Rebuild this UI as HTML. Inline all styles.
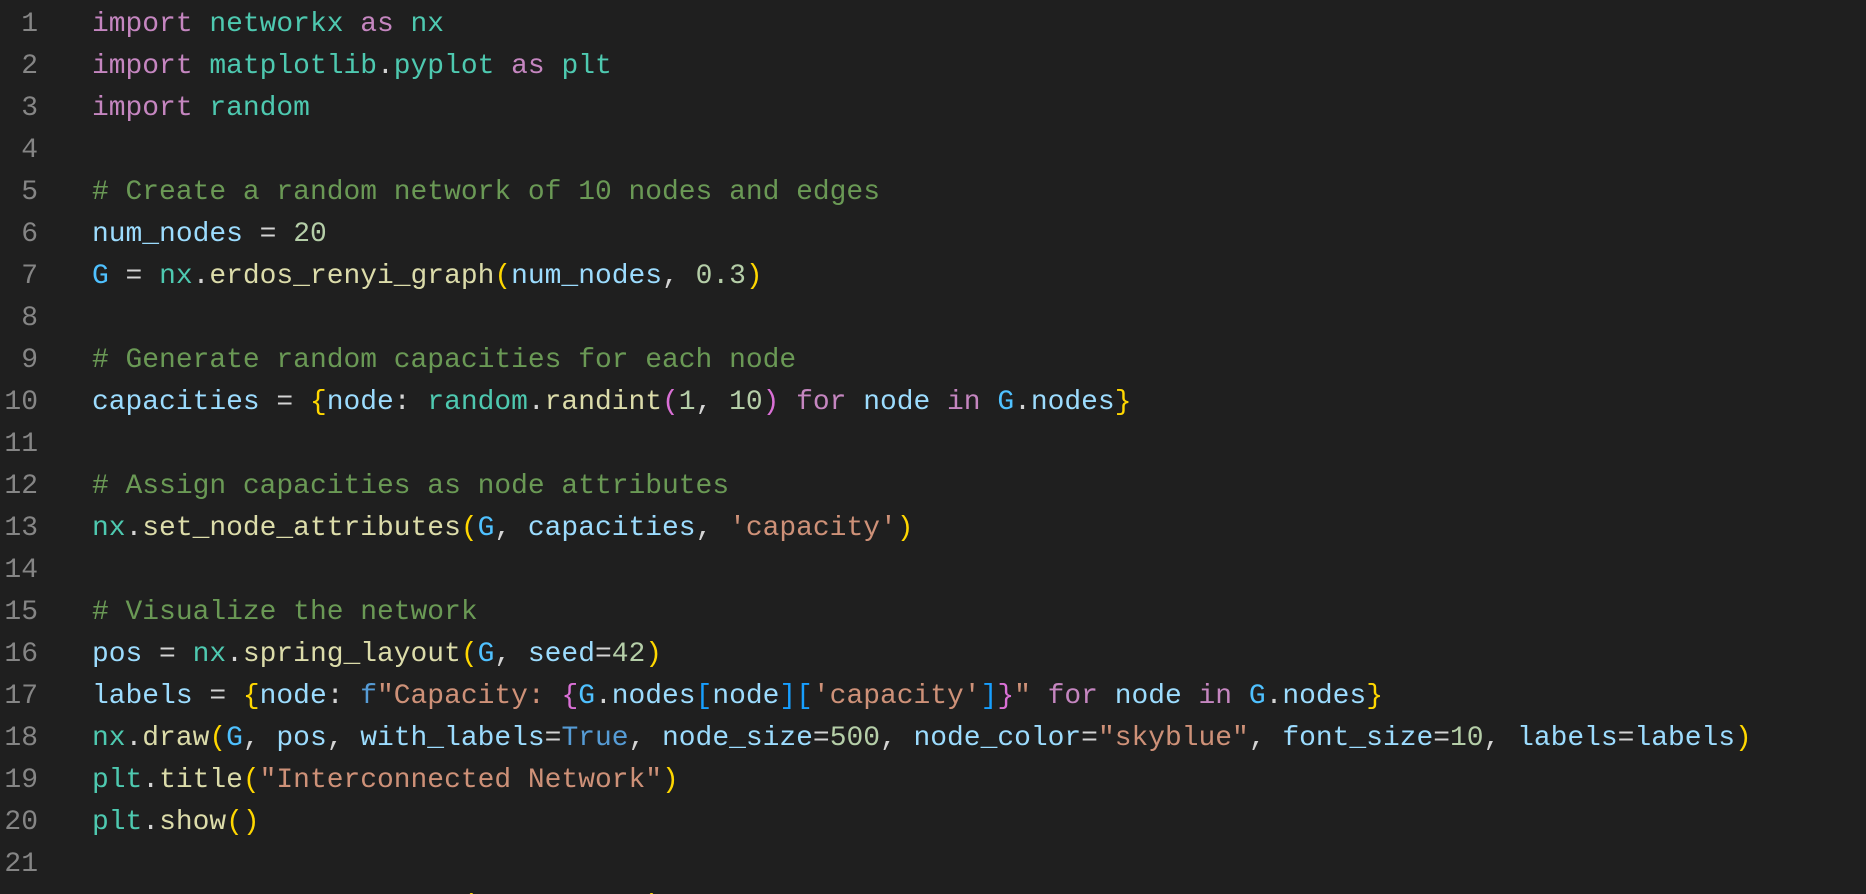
<!DOCTYPE html>
<html><head><meta charset="utf-8"><style>
html,body{margin:0;padding:0;background:#1f1f1f;width:1866px;height:894px;overflow:hidden}
#w{position:relative;width:1866px;height:894px;overflow:hidden;background:#1f1f1f}
.ln{position:absolute;left:0;top:4px;width:38px;text-align:right;font-family:"Liberation Mono",monospace;font-size:28px;line-height:42px;color:#858585;white-space:pre}
.code{position:absolute;left:92px;top:4px;font-family:"Liberation Mono",monospace;font-size:27.95px;line-height:42px;white-space:pre;color:#d4d4d4}
.k{color:#c586c0}.m{color:#4ec9b0}.v{color:#9cdcfe}.n{color:#b5cea8}.cm{color:#6a9955}.f{color:#dcdcaa}.s{color:#ce9178}.b{color:#ffd700}.g{color:#4fc1ff}.t{color:#569cd6}.p{color:#da70d6}.bl{color:#179fff}
</style></head><body><div id="w">
<div class="ln">1
2
3
4
5
6
7
8
9
10
11
12
13
14
15
16
17
18
19
20
21</div>
<div class="code"><span class="k">import</span> <span class="m">networkx</span> <span class="k">as</span> <span class="m">nx</span>
<span class="k">import</span> <span class="m">matplotlib</span>.<span class="m">pyplot</span> <span class="k">as</span> <span class="m">plt</span>
<span class="k">import</span> <span class="m">random</span>

<span class="cm"># Create a random network of 10 nodes and edges</span>
<span class="v">num_nodes</span> = <span class="n">20</span>
<span class="g">G</span> = <span class="m">nx</span>.<span class="f">erdos_renyi_graph</span><span class="b">(</span><span class="v">num_nodes</span>, <span class="n">0.3</span><span class="b">)</span>

<span class="cm"># Generate random capacities for each node</span>
<span class="v">capacities</span> = <span class="b">{</span><span class="v">node</span>: <span class="m">random</span>.<span class="f">randint</span><span class="p">(</span><span class="n">1</span>, <span class="n">10</span><span class="p">)</span> <span class="k">for</span> <span class="v">node</span> <span class="k">in</span> <span class="g">G</span>.<span class="v">nodes</span><span class="b">}</span>

<span class="cm"># Assign capacities as node attributes</span>
<span class="m">nx</span>.<span class="f">set_node_attributes</span><span class="b">(</span><span class="g">G</span>, <span class="v">capacities</span>, <span class="s">'capacity'</span><span class="b">)</span>

<span class="cm"># Visualize the network</span>
<span class="v">pos</span> = <span class="m">nx</span>.<span class="f">spring_layout</span><span class="b">(</span><span class="g">G</span>, <span class="v">seed</span>=<span class="n">42</span><span class="b">)</span>
<span class="v">labels</span> = <span class="b">{</span><span class="v">node</span>: <span class="t">f</span><span class="s">"Capacity: </span><span class="p">{</span><span class="g">G</span>.<span class="v">nodes</span><span class="bl">[</span><span class="v">node</span><span class="bl">][</span><span class="s">'capacity'</span><span class="bl">]</span><span class="p">}</span><span class="s">"</span> <span class="k">for</span> <span class="v">node</span> <span class="k">in</span> <span class="g">G</span>.<span class="v">nodes</span><span class="b">}</span>
<span class="m">nx</span>.<span class="f">draw</span><span class="b">(</span><span class="g">G</span>, <span class="v">pos</span>, <span class="v">with_labels</span>=<span class="t">True</span>, <span class="v">node_size</span>=<span class="n">500</span>, <span class="v">node_color</span>=<span class="s">"skyblue"</span>, <span class="v">font_size</span>=<span class="n">10</span>, <span class="v">labels</span>=<span class="v">labels</span><span class="b">)</span>
<span class="m">plt</span>.<span class="f">title</span><span class="b">(</span><span class="s">"Interconnected Network"</span><span class="b">)</span>
<span class="m">plt</span>.<span class="f">show</span><span class="b">()</span>

<span class="v">                      </span><span class="b">(</span><span class="v">          </span><span class="b">)</span></div>
</div></body></html>
